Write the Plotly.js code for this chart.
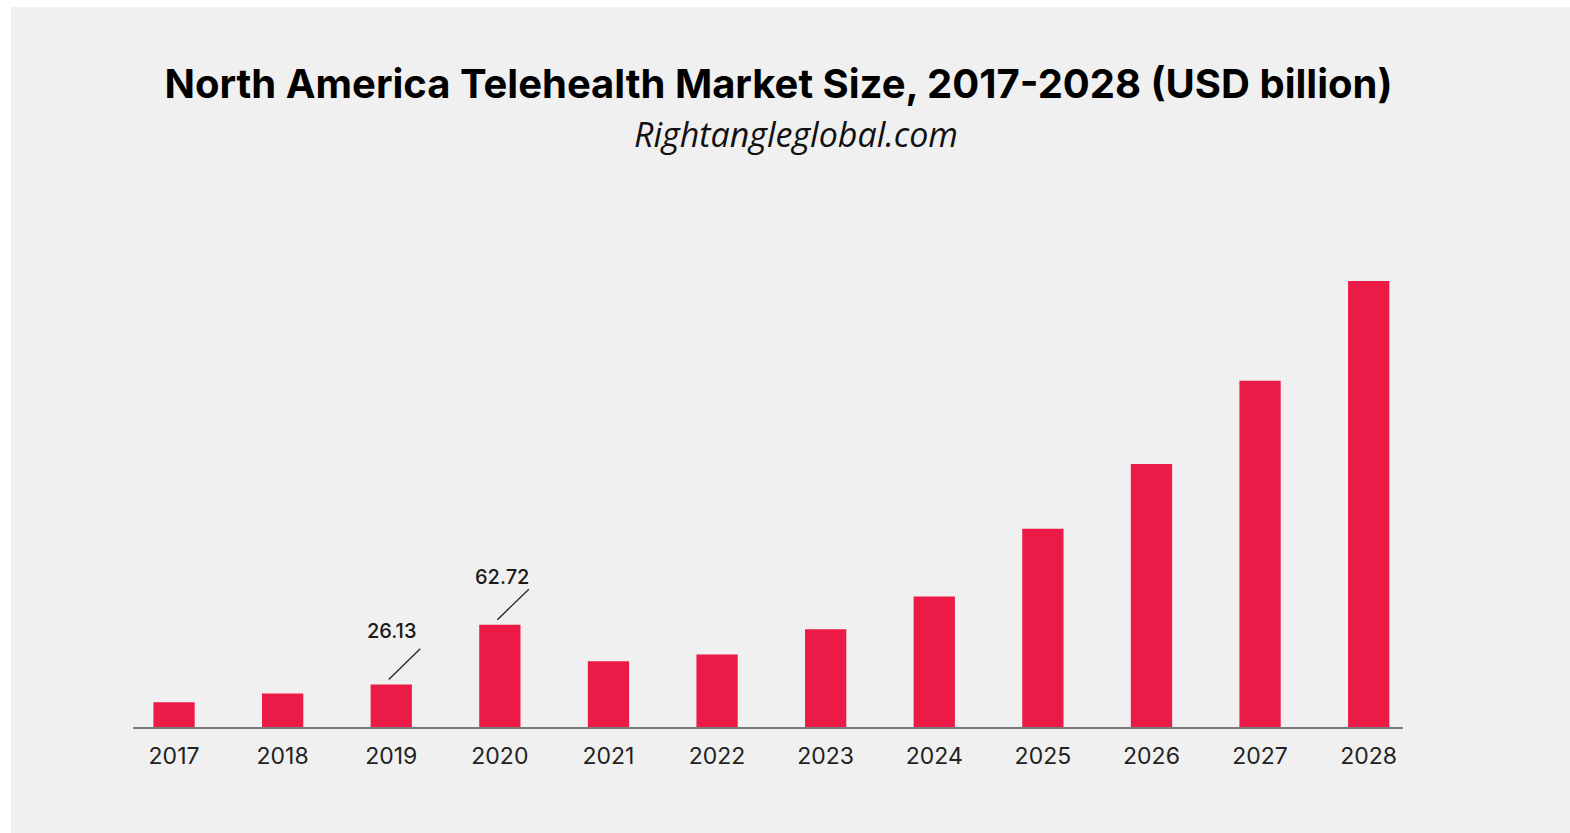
<!DOCTYPE html>
<html>
<head>
<meta charset="utf-8">
<script src="https://cdn.plot.ly/plotly-3.0.1.min.js"></script>
<style>
  html, body { margin: 0; padding: 0; background: #ffffff; width: 1570px; height: 833px; overflow: hidden; }
  #chart { position: absolute; left: 11px; top: 7px; width: 1559px; height: 826px; }
</style>
</head>
<body>
<div id="chart"></div>
<script>
// Data (USD billion)
const years = ["2017", "2018", "2019", "2020", "2021", "2022", "2023", "2024", "2025", "2026", "2027", "2028"];
const marketSize = [15.1, 20.5, 26.13, 62.72, 40.3, 44.4, 59.9, 80.0, 121.5, 161.3, 212.3, 273.4];
const labelledYears = ["2019", "2020"];
const labelledValues = [26.13, 62.72];
const labelTexts = ["26.13", "62.72"];

const titleText = "North America Telehealth Market Size, 2017-2028 (USD billion)";
const subtitleText = "Rightangleglobal.com";

const barColor = "#EC1A46";
const labelYShift = [53, 48];
const labelXShift = [0, 2];

const annotations = [];
labelledYears.forEach((yr, i) => {
  const xi = years.indexOf(yr);
  annotations.push({
    x: xi, y: labelledValues[i], xref: "x", yref: "y",
    text: labelTexts[i], showarrow: false,
    yanchor: "middle", xanchor: "center",
    yshift: labelYShift[i], xshift: labelXShift[i],
    font: { family: "Inter, 'Open Sans', sans-serif", size: 20, color: "#1a1a1a", weight: 500 }
  });
  annotations.push({
    x: xi, y: labelledValues[i], xref: "x", yref: "y",
    text: " ", showarrow: true, arrowhead: 0, arrowwidth: 1.4, arrowcolor: "#2a2a2a",
    ax: 33, ay: -32, standoff: 0, startstandoff: 0,
    yshift: 5, xshift: -2.5,
    font: { size: 1 }
  });
});
annotations.push({
  xref: "paper", yref: "paper", x: 0.5217, y: 1.136,
  xanchor: "center", yanchor: "middle",
  text: "<i>" + subtitleText + "</i>", showarrow: false,
  font: { family: "'Open Sans', 'Noto Sans', sans-serif", size: 34, color: "#111111" }
});

const trace = {
  type: "bar",
  x: years,
  y: marketSize,
  width: 0.38,
  marker: { color: barColor },
  hoverinfo: "x+y"
};

const layout = {
  width: 1559, height: 826,
  paper_bgcolor: "#F0F0F0",
  plot_bgcolor: "#F0F0F0",
  margin: { l: 122, r: 167, t: 198, b: 106 },
  showlegend: false,
  title: {
    text: "<b>" + titleText + "</b>",
    xref: "container", yref: "container",
    x: 0.4923, xanchor: "center",
    y: 0.9068, yanchor: "middle",
    font: { family: "Inter, 'Open Sans', sans-serif", size: 40, color: "#000000", weight: 800 }
  },
  xaxis: {
    type: "category",
    range: [-0.378, 11.316],
    showgrid: false, zeroline: false,
    showline: true, linecolor: "#7a7a7a", linewidth: 2,
    ticks: "", ticklabelstandoff: 7,
    tickfont: { family: "Inter, 'Open Sans', sans-serif", size: 23, color: "#222222" },
    fixedrange: true
  },
  yaxis: {
    range: [0, 320],
    showgrid: false, zeroline: false, showline: false,
    showticklabels: false, ticks: "",
    fixedrange: true
  },
  annotations: annotations
};

Plotly.newPlot("chart", [trace], layout, { displayModeBar: false, staticPlot: true });
</script>
</body>
</html>
